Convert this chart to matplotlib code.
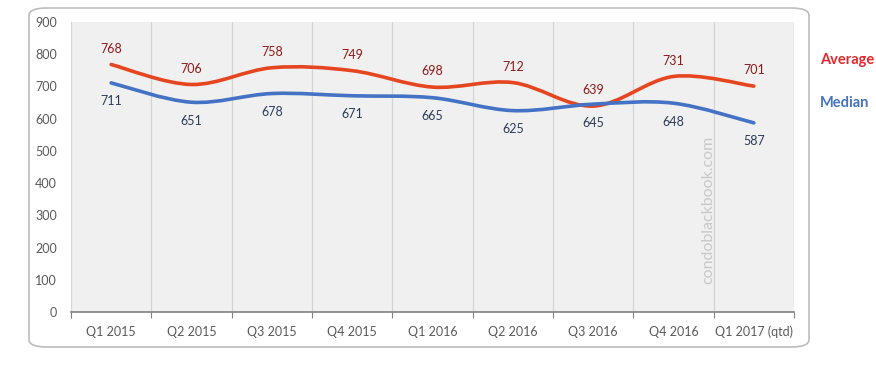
import numpy as np
import matplotlib.pyplot as plt
from matplotlib.path import Path
from matplotlib.patches import PathPatch, FancyBboxPatch

quarters = ['Q1 2015', 'Q2 2015', 'Q3 2015', 'Q4 2015', 'Q1 2016',
            'Q2 2016', 'Q3 2016', 'Q4 2016', 'Q1 2017 (qtd)']
average = [768, 706, 758, 749, 698, 712, 639, 731, 701]
median = [711, 651, 678, 671, 665, 625, 645, 648, 587]

avg_line = '#E5461F'
avg_text = '#8E1B1B'
med_line = '#4472C4'
med_text = '#2B3C5A'

plt.rcParams['font.family'] = ['Lato', 'DejaVu Sans']


def smooth_path(xs, ys, t=1/6):
    # Catmull-Rom style bezier through the points (like Excel smoothed lines)
    xs = np.asarray(xs, float)
    ys = np.asarray(ys, float)
    n = len(xs)
    verts = [(xs[0], ys[0])]
    codes = [Path.MOVETO]
    for i in range(n - 1):
        p0 = i - 1 if i > 0 else i
        p3 = i + 2 if i + 2 < n else i + 1
        c1 = (xs[i] + (xs[i + 1] - xs[p0]) * t, ys[i] + (ys[i + 1] - ys[p0]) * t)
        c2 = (xs[i + 1] - (xs[p3] - xs[i]) * t, ys[i + 1] - (ys[p3] - ys[i]) * t)
        verts += [c1, c2, (xs[i + 1], ys[i + 1])]
        codes += [Path.CURVE4] * 3
    return Path(verts, codes)


fig = plt.figure(figsize=(8.76, 3.79), dpi=100)
fig.patch.set_facecolor('white')

# rounded frame around the chart
frame = FancyBboxPatch((29 / 876, 1 - 347 / 379), (809 - 29) / 876, (347 - 8) / 379,
                       boxstyle='round,pad=0,rounding_size=0.02',
                       transform=fig.transFigure, facecolor='none',
                       edgecolor='#BDBDBD', linewidth=1.2, zorder=0)
fig.patches.append(frame)

ax = fig.add_axes([71 / 876, 1 - 312 / 379, (794 - 71) / 876, (312 - 22) / 379])
ax.set_facecolor('#F0F0F0')

x = np.arange(len(quarters))
ax.set_xlim(-0.5, len(quarters) - 0.5)
ax.set_ylim(0, 900)

ax.add_patch(PathPatch(smooth_path(x, average), facecolor='none',
                       edgecolor=avg_line, linewidth=2.6, capstyle='round', zorder=3))
ax.add_patch(PathPatch(smooth_path(x, median), facecolor='none',
                       edgecolor=med_line, linewidth=2.6, capstyle='round', zorder=3))

for xi, a, m in zip(x, average, median):
    ax.annotate(str(a), (xi, a), xytext=(0, 7), textcoords='offset points',
                ha='center', va='bottom', fontsize=9, color=avg_text)
    ax.annotate(str(m), (xi, m), xytext=(0, -9), textcoords='offset points',
                ha='center', va='top', fontsize=9, color=med_text)

# gridlines at category boundaries
ax.set_xticks(np.arange(-0.5, len(quarters)), labels=[''] * (len(quarters) + 1))
ax.set_xticks(x, labels=quarters, minor=True)
ax.tick_params(axis='x', which='major', length=4, color='#808080', direction='out')
ax.tick_params(axis='x', which='minor', length=0, pad=10, labelsize=9, labelcolor='#595959')
ax.grid(axis='x', which='major', color='#D4D4D4', linewidth=0.9)
ax.set_axisbelow(True)

ax.set_yticks(range(0, 901, 100))
ax.tick_params(axis='y', length=0, pad=10, labelsize=9, labelcolor='#595959')

for s in ['top', 'right', 'left']:
    ax.spines[s].set_visible(False)
ax.spines['bottom'].set_color('#808080')
ax.spines['bottom'].set_linewidth(1.2)

ax.text(7.43, 316, 'condoblackbook.com', rotation=90, ha='center', va='center',
        fontsize=11.5, color='#C8C8C8', zorder=2)

fig.text(820 / 876, 1 - 60 / 379, 'Average', color='#E3262B', fontsize=10.5,
         fontweight='bold', va='center', ha='left')
fig.text(820 / 876, 1 - 103 / 379, 'Median', color='#4472C4', fontsize=10.5,
         fontweight='bold', va='center', ha='left')

fig.savefig('out.png', dpi=100)
